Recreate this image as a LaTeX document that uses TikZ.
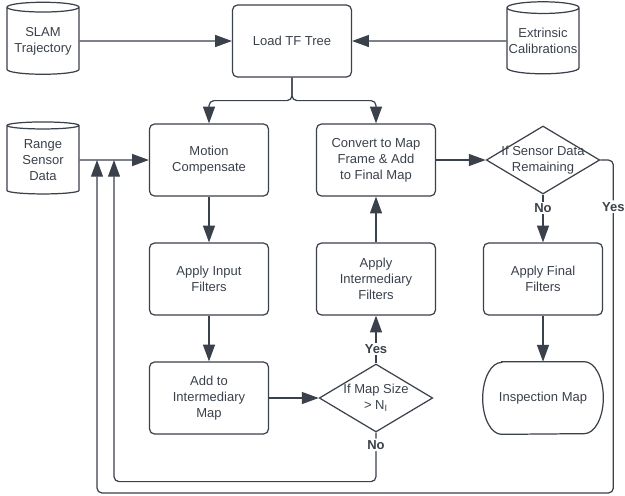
\documentclass[tikz,border=0pt]{standalone}
\usepackage{fontspec}
\setmainfont{Liberation Sans}
\usetikzlibrary{shapes.geometric, arrows.meta, positioning}
\definecolor{ink}{HTML}{3A414A}

\begin{document}
\begin{tikzpicture}[x=0.02cm, y=-0.02cm,
    every node/.style={font=\fontsize{7.4}{9.1}\selectfont, text=ink, align=center},
    process/.style={draw=ink, line width=0.7pt, rounded corners=0.1cm, minimum width=2.38cm, minimum height=1.44cm, inner sep=1pt},
    datastore/.style={draw=ink, line width=0.7pt, cylinder, shape border rotate=90, aspect=0.17, minimum width=1.44cm, minimum height=1.44cm, inner sep=0pt},
    decision/.style={draw=ink, line width=0.7pt, diamond, minimum width=2.27cm, minimum height=1.36cm, inner sep=0pt},
    terminal/.style={minimum width=2.4cm, minimum height=1.44cm, inner sep=1pt},
    flow/.style={draw=ink, line width=0.7pt, -{Triangle[length=9.5pt, width=6.8pt]}},
    answer/.style={fill=white, font=\fontsize{7.4}{9.1}\selectfont\bfseries, inner sep=1pt}]
    \useasboundingbox (0,0) rectangle (625,495);
    \node[datastore] (slam) at (43,41) {SLAM\\Trajectory};
    \node[process] (load) at (292,41) {Load TF Tree};
    \node[datastore] (extr) at (543,41) {Extrinsic\\Calibrations};
    \node[datastore] (range) at (43,160) {Range\\Sensor\\Data};
    \node[process] (motion) at (209,160) {Motion\\Compensate};
    \node[process] (convert) at (376,160) {Convert to Map\\Frame \& Add\\to Final Map};
    \node[decision, label={[align=center]center:If Sensor Data\\Remaining}] (remain) at (543,160) {};
    \node[process] (input) at (209,279) {Apply Input\\Filters};
    \node[process] (inter) at (376,279) {Apply\\Intermediary\\Filters};
    \node[process] (final) at (543,279) {Apply Final\\Filters};
    \node[process] (addmap) at (209,398) {Add to\\Intermediary\\Map};
    \node[decision, label={[align=center]center:If Map Size\\> N\textsubscript{I}}] (size) at (376,398) {};
    \node[terminal] (insp) at (543,398) {Inspection Map};
    \draw[ink, line width=0.7pt] ([xshift=0.38cm]insp.north west) -- ([xshift=-0.38cm]insp.north east)
        arc[start angle=90, end angle=-90, x radius=0.38cm, y radius=0.72cm]
        -- ([xshift=0.38cm]insp.south west)
        arc[start angle=270, end angle=90, x radius=0.38cm, y radius=0.72cm] -- cycle;
    \coordinate (backA) at (114,160);
    \coordinate (backB) at (97,160);
    \draw[flow] (slam) -- (load);
    \draw[flow] (extr) -- (load);
    \draw[flow, rounded corners=0.1cm] (load.south) -- ++(0,23) -| (motion.north);
    \draw[flow, rounded corners=0.1cm] (load.south) -- ++(0,23) -| (convert.north);
    \draw[flow] (range) -- (motion);
    \draw[flow] (motion) -- (input);
    \draw[flow] (input) -- (addmap);
    \draw[flow] (addmap) -- (size);
    \draw[flow] (size) -- node[answer, pos=0.3]{Yes} (inter);
    \draw[flow] (inter) -- (convert);
    \draw[flow] (convert) -- (remain);
    \draw[flow] (remain) -- node[answer, pos=0.28]{No} (final);
    \draw[flow] (final) -- (insp);
    \draw[flow, rounded corners=0.1cm] (size.south) -- node[answer, pos=0.25]{No} ++(0,49) -| (backA);
    \draw[flow, rounded corners=0.1cm] (remain.east) -- ++(13,0) -- node[answer, pos=0.14]{Yes} ++(0,333) -| (backB);
\end{tikzpicture}
\end{document}
